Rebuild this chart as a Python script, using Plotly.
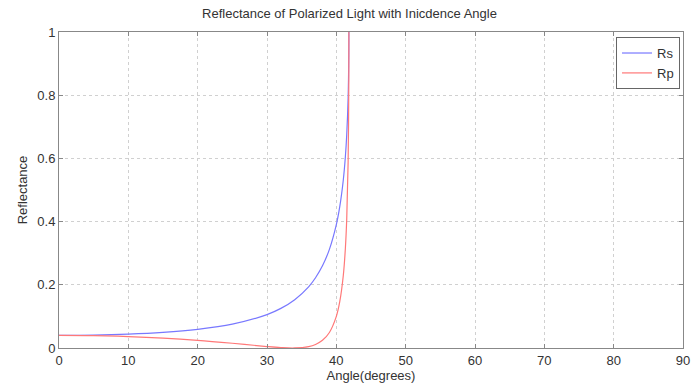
import plotly.graph_objects as go

angles = [0, 5, 10, 15, 20, 25, 30, 32, 34, 36, 37, 38, 39, 40, 40.5, 41, 41.3, 41.5, 41.7, 41.8, 41.81]
rs = [0.040, 0.0409, 0.0439, 0.0495, 0.0591, 0.0755, 0.1058, 0.1254, 0.1529, 0.1937, 0.2224, 0.2600,
      0.3122, 0.3905, 0.4482, 0.5310, 0.6045, 0.6751, 0.7907, 0.9293, 1.0]
rp = [0.040, 0.0391, 0.0363, 0.0315, 0.0244, 0.0151, 0.0046, 0.0013, 0.0001, 0.0045, 0.0113, 0.0243,
      0.0492, 0.1001, 0.1472, 0.2285, 0.3141, 0.4082, 0.5880, 0.8479, 1.0]
xticks = [0, 10, 20, 30, 40, 50, 60, 70, 80, 90]
yticks = [0, 0.2, 0.4, 0.6, 0.8, 1]

fig = go.Figure()
fig.add_trace(go.Scatter(x=angles, y=rs, mode="lines", name="Rs",
                         line=dict(color="rgb(120,120,255)", width=1.2, shape="spline")))
fig.add_trace(go.Scatter(x=angles, y=rp, mode="lines", name="Rp",
                         line=dict(color="rgb(255,120,120)", width=1.2, shape="spline")))

axis_common = dict(showline=True, linecolor="#888", linewidth=1, mirror="ticks",
                   ticks="inside", ticklen=4, tickcolor="#888",
                   showgrid=True, gridcolor="#d0d0d0", griddash="dot", gridwidth=1,
                   zeroline=False, tickfont=dict(size=13, color="#333"))

fig.update_layout(
    width=699, height=390,
    paper_bgcolor="white", plot_bgcolor="white",
    margin=dict(l=59, r=9, t=32, b=42),
    font=dict(family="Liberation Sans, Arial, sans-serif", color="#333"),
    title=dict(text="Reflectance of Polarized Light with Inicdence Angle",
               x=0.5, xanchor="center", yref="container", y=1 - 13 / 390, yanchor="middle",
               font=dict(size=13, color="#333")),
    xaxis=dict(range=[0, 90], tickvals=xticks, **axis_common,
               title=dict(text="Angle(degrees)", standoff=2, font=dict(size=13))),
    yaxis=dict(range=[0, 1], tickvals=yticks, **axis_common,
               title=dict(text="Reflectance", standoff=6, font=dict(size=13))),
    legend=dict(x=0.9952, y=0.984, xanchor="right", yanchor="top",
                bordercolor="#666", borderwidth=1, bgcolor="white",
                font=dict(size=13, color="#333"), itemwidth=30,
                tracegroupgap=0),
    showlegend=True,
)

fig.write_html("out.html", config={"displayModeBar": False},
               post_script="document.body.style.margin='0';")
